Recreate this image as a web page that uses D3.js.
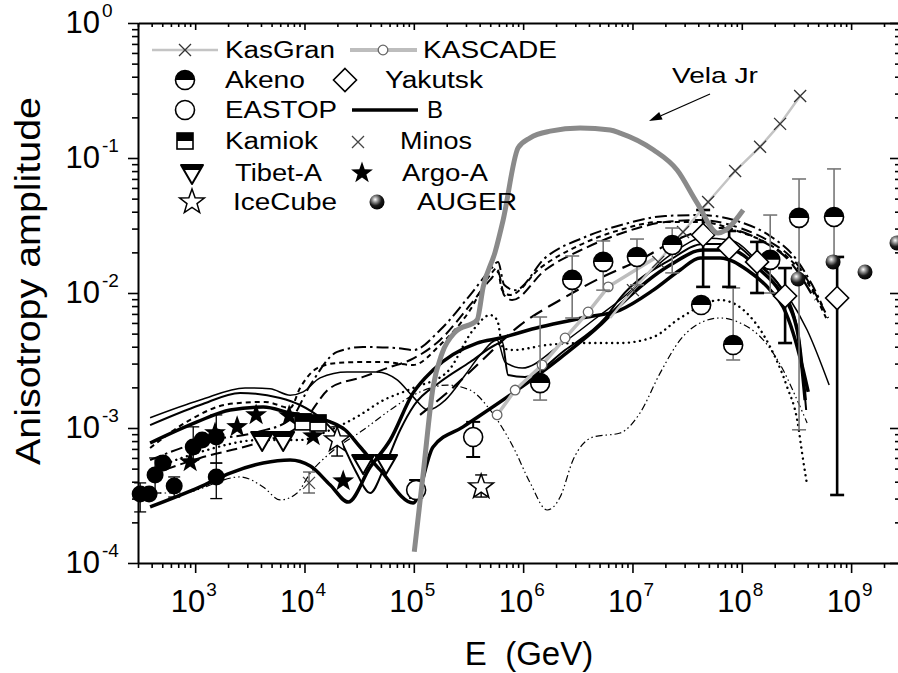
<!DOCTYPE html>
<html><head><meta charset="utf-8">
<script src="https://cdn.jsdelivr.net/npm/d3@7"></script>
<style>html,body{margin:0;padding:0;background:#fff;}svg{display:block;font-family:"Liberation Sans",Arial,sans-serif;}</style>
</head><body><svg id="c" width="898" height="673"></svg>
<script>
// ---------------- DATA (E in GeV, amplitude) ----------------
const xTickValues = [1e3,1e4,1e5,1e6,1e7,1e8,1e9];
const xTickExps = ['3','4','5','6','7','8','9'];
const yTickValues = [1e-4,1e-3,1e-2,1e-1,1];
const yTickExps = ['-4','-3','-2','-1','0'];

const velaJr = [[1.01e5,1.21e-4],[1.22e5,4.64e-4],[1.50e5,2.01e-3],[1.82e5,3.60e-3],[2.39e5,5.14e-3],[3.79e5,6.31e-3],[4.31e5,1.11e-2],[5.54e5,2.01e-2],[6.56e5,3.47e-2],[9.0e5,0.119],[1.16e6,0.141],[1.77e6,0.158],[3.32e6,0.167],[6.25e6,0.161],[7.71e6,0.153],[1.55e7,0.115],[2.56e7,8.15e-2],[3.91e7,4.64e-2],[6.07e7,2.78e-2],[1.03e8,4.12e-2]];

const kasGranLine = [[6.25e6,6.53e-3],[1.01e7,1.05e-2],[1.72e7,1.70e-2],[2.90e7,2.83e-2],[4.92e7,4.72e-2],[8.69e7,8.01e-2],[1.47e8,0.121],[2.24e8,0.179],[3.42e8,0.288]];
const kasGranPts = [[1.01e7,1.05e-2],[1.72e7,1.70e-2],[2.90e7,2.83e-2],[4.92e7,4.72e-2],[8.69e7,8.01e-2],[1.47e8,0.121],[2.24e8,0.179],[3.42e8,0.288]];

const kascadeLine = [[5.78e5,1.25e-3],[8.45e5,1.91e-3],[1.49e6,2.93e-3],[2.42e6,4.64e-3],[3.93e6,7.23e-3],[6.0e6,1.11e-2],[1.61e7,1.82e-2]];
const kascadePts = [[5.78e5,1.25e-3],[8.45e5,1.91e-3],[1.49e6,2.93e-3],[2.42e6,4.64e-3],[3.93e6,7.23e-3],[6.0e6,1.11e-2]];

// [E, A, hi, lo]
const akeno = [[1.43e6,2.15e-3,6.64e-3,1.61e-3],[2.81e6,1.25e-2,1.88e-2,6.53e-3],[5.4e6,1.70e-2,2.43e-2,1.05e-2],[1.1e7,1.85e-2,2.51e-2,1.15e-2],[2.31e7,2.27e-2,3.03e-2,1.41e-2],[4.25e7,8.15e-3,null,null],[8.34e7,4.12e-3,1.09e-2,3.19e-3],[1.82e8,1.76e-2,3.78e-2,1.0e-2],[3.34e8,3.60e-2,6.99e-2,9.7e-4],[6.98e8,3.66e-2,8.3e-2,1.82e-2]];
const yakutsk = [[4.43e7,2.69e-2,4.12e-2,1.11e-2],[7.66e7,2.15e-2,2.88e-2,1.11e-2],[1.38e8,1.70e-2,2.39e-2,1.0e-2],[2.49e8,9.5e-3,1.53e-2,4.26e-3],[7.45e8,9.18e-3,1.85e-2,3.19e-4]];
const eastop = [[1.05e5,3.47e-4,4.12e-4,3.03e-4],[3.49e5,8.57e-4,1.11e-3,6.1e-4]];
const iceCube = [[1.99e4,8.15e-4,1.02e-3,6.2e-4],[4.13e5,3.66e-4,4.49e-4,3.08e-4]];
const minos = [[1.1e4,3.92e-4,4.72e-4,3.3e-4]];
const kamiok = [[9.7e3,1.11e-3],[1.33e4,1.09e-3]];
const tibetA = [[4.1e3,8.15e-4],[6.38e3,8.15e-4],[3.44e4,5.5e-4],[5.58e4,5.5e-4]];
const argoA = [[900,5.6e-4],[1.52e3,9.2e-4],[2.42e3,1.02e-3],[3.61e3,1.25e-3],[7.24e3,1.23e-3],[1.2e4,8.73e-4],[2.26e4,4.05e-4]];
const auger = [[3.27e8,1.27e-2],[6.84e8,1.70e-2],[1.34e9,1.43e-2],[2.63e9,2.35e-2]];
const lowEnergy = [[314,3.24e-4,3.92e-4,2.39e-4],[379,3.24e-4,null,null],[430,4.49e-4,6.0e-4,3.3e-4],[509,5.5e-4,null,null],[643,3.72e-4,4.34e-4,3.08e-4],[960,7.23e-4,1.02e-3,5.79e-4],[1.16e3,8.15e-4,null,null],[1.56e3,8.57e-4,1.25e-3,5.5e-4],[1.56e3,4.34e-4,5.5e-4,3.0e-4]];

// model curves
const modelThickA = [[387,2.60e-4],[1.11e3,3.66e-4],[2.09e3,4.64e-4],[4.19e3,5.50e-4],[7.39e3,5.79e-4],[1.13e4,5.23e-4],[1.72e4,3.78e-4],[2.51e4,2.83e-4],[3.99e4,5.14e-4],[6.08e4,8.15e-4],[9.86e4,1.82e-3],[1.50e5,2.69e-3],[3.79e5,4.26e-3],[6.17e5,4.64e-3],[1.43e6,5.60e-3],[3.85e6,6.64e-3],[7.71e6,7.48e-3],[1.55e7,1.05e-2],[2.73e7,1.48e-2],[4.16e7,1.82e-2],[6.34e7,1.82e-2],[1.12e8,1.48e-2],[1.82e8,1.05e-2],[2.39e8,7.87e-3],[2.95e8,5.06e-3],[3.64e8,2.69e-3],[4.05e8,1.85e-3]];
const modelThickB = [[387,7.74e-4],[1.04e3,1.11e-3],[2.09e3,1.36e-3],[4.19e3,1.43e-3],[7.39e3,1.29e-3],[1.72e4,1.11e-3],[2.36e4,9.66e-4],[3.23e4,7.23e-4],[4.92e4,4.89e-4],[9.86e4,2.78e-4],[1.50e5,7.23e-4],[2.82e5,1.02e-3],[8.11e5,1.82e-3],[2.18e6,3.30e-3],[5.06e6,5.79e-3],[7.71e6,8.15e-3],[2.21e7,1.61e-2],[4.43e7,2.08e-2],[7.82e7,2.08e-2],[1.47e8,1.48e-2],[2.24e8,1.02e-2],[3.21e8,5.32e-3],[3.80e8,1.61e-3]];
const modelSolidThin = [[387,1.19e-3],[1.11e3,1.61e-3],[2.86e3,1.98e-3],[4.85e3,1.95e-3],[7.39e3,1.75e-3],[9.73e3,1.85e-3],[1.39e4,2.35e-3],[2.45e4,2.60e-3],[4.62e4,2.60e-3],[7.05e4,2.27e-3],[9.86e4,1.70e-3],[1.35e5,1.36e-3],[1.94e5,1.61e-3],[2.95e5,2.47e-3],[4.05e5,3.47e-3],[5.78e5,4.49e-3],[6.84e5,3.08e-3],[9.79e5,2.78e-3],[2.18e6,4.12e-3],[5.06e6,6.87e-3],[7.71e6,8.87e-3],[2.21e7,1.91e-2],[4.43e7,2.55e-2],[7.82e7,2.47e-2],[1.47e8,1.64e-2],[2.60e8,9.66e-3],[3.96e8,5.32e-3],[6.30e8,2.08e-3]];
const modelSolidMid = [[387,1.05e-3],[1.11e3,1.48e-3],[2.58e3,1.82e-3],[5.99e3,1.67e-3],[9.12e3,1.48e-3],[1.39e4,1.19e-3],[2.12e4,8.15e-4],[2.90e4,4.89e-4],[3.99e4,3.30e-4],[5.47e4,5.32e-4],[7.50e4,9.66e-4],[1.01e5,1.48e-3],[1.74e5,2.19e-3],[3.27e5,3.08e-3],[5.54e5,4.12e-3],[6.43e5,4.34e-3],[7.29e5,2.47e-3],[1.04e6,2.39e-3],[2.42e6,3.78e-3],[5.62e6,6.53e-3],[7.71e6,9.18e-3],[2.21e7,1.76e-2],[4.43e7,2.31e-2],[7.82e7,2.31e-2],[1.47e8,1.58e-2],[2.24e8,1.11e-2],[3.21e8,5.60e-3],[3.88e8,1.36e-3]];
const modelDashDotDot = [[387,3.30e-4],[729,3.30e-4],[2.58e3,4.34e-4],[4.19e3,3.66e-4],[5.99e3,2.93e-4],[8.57e3,3.30e-4],[1.13e4,4.64e-4],[1.72e4,6.53e-4],[3.44e4,9.66e-4],[6.08e4,1.36e-3],[9.86e4,1.75e-3],[2.02e5,2.08e-3],[3.27e5,1.91e-3],[4.99e5,1.36e-3],[8.11e5,7.23e-4],[1.16e6,3.92e-4],[1.66e6,2.47e-4],[2.18e6,3.08e-4],[2.86e6,5.79e-4],[4.37e6,8.57e-4],[7.71e6,9.18e-4],[1.17e7,1.29e-3],[1.79e7,2.55e-3],[2.73e7,4.49e-3],[4.16e7,6.00e-3],[6.34e7,6.53e-3],[9.66e7,6.00e-3],[1.57e8,4.49e-3],[2.39e8,2.69e-3],[3.21e8,1.61e-3],[3.96e8,1.09e-3]];
const modelDotted = [[387,4.89e-4],[1.11e3,6.64e-4],[3.94e3,8.15e-4],[9.12e3,8.15e-4],[1.72e4,9.66e-4],[3.23e4,1.25e-3],[4.92e4,1.56e-3],[9.86e4,1.98e-3],[2.02e5,2.60e-3],[3.49e5,5.32e-3],[4.99e5,6.87e-3],[5.78e5,6.31e-3],[6.56e5,3.91e-3],[8.11e5,3.78e-3],[1.66e6,4.12e-3],[3.32e6,4.26e-3],[7.71e6,4.26e-3],[1.55e7,4.72e-3],[2.73e7,6.53e-3],[6.34e7,8.87e-3],[1.27e8,6.31e-3],[1.82e8,3.98e-3],[2.60e8,2.01e-3],[3.21e8,1.15e-3],[3.64e8,5.79e-4],[3.96e8,3.78e-4]];
const modelShortDash = [[387,7.11e-4],[900,1.15e-3],[2.09e3,1.51e-3],[4.37e3,1.56e-3],[7.39e3,1.41e-3],[9.12e3,1.98e-3],[1.31e4,2.78e-3],[1.99e4,3.03e-3],[3.44e4,3.08e-3],[5.25e4,3.08e-3],[9.86e4,2.93e-3],[1.74e5,4.12e-3],[3.27e5,7.48e-3],[4.99e5,1.36e-2],[5.78e5,1.53e-2],[6.43e5,1.05e-2],[7.60e5,9.66e-3],[1.43e6,1.53e-2],[3.32e6,2.27e-2],[7.71e6,2.93e-2],[1.79e7,3.36e-2],[4.16e7,3.36e-2],[9.66e7,2.83e-2],[1.82e8,2.27e-2],[3.08e8,1.61e-2],[4.40e8,1.05e-2],[5.91e8,6.53e-3]];
const modelDashDot = [[387,5.79e-4],[1.11e3,7.87e-4],[3.69e3,9.33e-4],[7.39e3,1.15e-3],[1.13e4,2.08e-3],[1.99e4,3.66e-3],[3.44e4,3.98e-3],[7.05e4,3.91e-3],[9.86e4,3.78e-3],[1.74e5,5.32e-3],[3.27e5,9.66e-3],[4.99e5,1.48e-2],[5.90e5,1.70e-2],[6.70e5,1.15e-2],[8.45e5,1.05e-2],[1.59e6,1.82e-2],[3.69e6,2.60e-2],[8.57e6,3.25e-2],[1.99e7,3.72e-2],[4.16e7,3.78e-2],[9.66e7,3.36e-2],[1.82e8,2.64e-2],[3.08e8,1.82e-2],[4.40e8,1.15e-2],[5.43e8,8.15e-3]];
const modelLongDash = [[387,4.49e-4],[1.11e3,6.00e-4],[3.69e3,7.74e-4],[9.12e3,1.05e-3],[1.72e4,1.98e-3],[3.44e4,2.39e-3],[6.08e4,2.83e-3],[9.27e4,3.19e-3],[1.74e5,4.49e-3],[3.27e5,8.15e-3],[4.99e5,1.25e-2],[5.90e5,1.43e-2],[6.70e5,9.66e-3],[7.93e5,8.87e-3],[1.59e6,1.48e-2],[3.69e6,2.15e-2],[8.57e6,2.83e-2],[1.99e7,3.36e-2],[4.16e7,3.47e-2],[9.66e7,3.03e-2],[1.82e8,2.39e-2],[3.08e8,1.70e-2],[4.40e8,1.09e-2],[6.17e8,6.53e-3]];
const modelLongDash2 = [[1.14e5,1.25e-3],[2.15e5,1.91e-3],[4.05e5,3.08e-3],[9.40e5,5.79e-3],[2.18e6,8.87e-3],[5.06e6,1.29e-2],[1.17e7,1.76e-2],[2.73e7,2.55e-2],[6.34e7,3.03e-2],[1.47e8,2.47e-2],[2.77e8,1.70e-2],[4.69e8,8.87e-3]];

const legendLabels = ['KasGran','KASCADE','Akeno','Yakutsk','EASTOP','B','Kamiok','Minos','Tibet-A','Argo-A','IceCube','AUGER'];

// ---------------- DRAW ----------------
const svg = d3.select('#c');
const defs = svg.append('defs');
const gr = defs.append('radialGradient').attr('id','ball').attr('cx','0.38').attr('cy','0.33').attr('r','0.7');
[['0','#fff'],['0.25','#999'],['0.6','#1a1a1a'],['1','#000']].forEach(s=>gr.append('stop').attr('offset',s[0]).attr('stop-color',s[1]));

const x = d3.scaleLog().domain([300, 2.8e9]).range([138, 900]);
const y = d3.scaleLog().domain([1e-4, 1]).range([563, 23]);
const line = d3.line().x(d=>x(d[0])).y(d=>y(d[1])).curve(d3.curveMonotoneX);
const lineLin = d3.line().x(d=>x(d[0])).y(d=>y(d[1]));

// axes
function minorTicks(lo, hi){ const out=[]; for(let p=-6;p<=10;p++){ for(let k=2;k<=9;k++){ const v=k*Math.pow(10,p); if(v>=lo&&v<=hi) out.push(v);} } return out; }
const xMinor = minorTicks(300, 2.8e9), yMinor = minorTicks(1e-4, 1);
function axis(gen, tr, major, minor, majLen, minLen){
  const a = svg.append('g').attr('transform',tr);
  a.append('g').call(gen.tickValues(minor).tickSize(minLen).tickSizeOuter(0).tickFormat(()=>'')).call(s=>s.select('.domain').remove());
  a.append('g').call(gen.tickValues(major).tickSize(majLen).tickSizeOuter(0).tickFormat(()=>''));
  a.selectAll('.domain').attr('stroke','#000').attr('stroke-width',2);
  a.selectAll('.tick line').attr('stroke','#000').attr('stroke-width',1.6);
}
axis(d3.axisBottom(x), 'translate(0,563)', xTickValues, xMinor, 10, 5);
axis(d3.axisBottom(x), 'translate(0,23)', xTickValues, xMinor, 7, 4);
axis(d3.axisLeft(y), 'translate(138,0)', yTickValues, yMinor, 10, 6);
axis(d3.axisLeft(y), 'translate(900,0)', yTickValues, yMinor, 10, 5);

// tick labels
xTickValues.forEach((v,i)=>{
  const px = x(v);
  svg.append('text').attr('x',px+10).attr('y',612).attr('text-anchor','end').attr('font-size',31).text('10');
  svg.append('text').attr('x',px+11).attr('y',596).attr('font-size',19).text(xTickExps[i]);
});
yTickValues.forEach((v,i)=>{
  const py = y(v);
  svg.append('text').attr('x',100).attr('y',py+10).attr('text-anchor','end').attr('font-size',31).text('10');
  svg.append('text').attr('x',102).attr('y',py-6).attr('font-size',19).text(yTickExps[i]);
});
svg.append('text').attr('transform','translate(40,281) rotate(-90)').attr('text-anchor','middle').attr('font-size',35)
  .attr('textLength',368).attr('lengthAdjust','spacingAndGlyphs').text('Anisotropy amplitude');
svg.append('text').attr('x',529).attr('y',665).attr('text-anchor','middle').attr('font-size',33).style('white-space','pre').text('E  (GeV)');

// model curves
const curves = [
  [modelDashDotDot,1.2,'7,3,1.5,3,1.5,3','butt'],
  [modelDotted,2.4,'0.1,5.5','round'],
  [modelShortDash,2,'5,4','butt'],
  [modelDashDot,2,'12,4,2.5,4','butt'],
  [modelLongDash,2,'11,5','butt'],
  [modelLongDash2,2.2,'14,7','butt'],
  [modelSolidThin,1.5,null,'butt'],
  [modelSolidMid,2,null,'butt'],
  [modelThickB,3.5,null,'butt'],
  [modelThickA,3.5,null,'butt']
];
const gc = svg.append('g').attr('fill','none').attr('stroke','#000');
curves.forEach(c=>{
  const p = gc.append('path').attr('d',line(c[0])).attr('stroke-width',c[1]).attr('stroke-linecap',c[3]).attr('stroke-linejoin','round');
  if(c[2]) p.attr('stroke-dasharray',c[2]);
});

// KASCADE & KasGran lines
svg.append('path').attr('d',lineLin(kascadeLine)).attr('fill','none').attr('stroke','#bdbdbd').attr('stroke-width',3.5);
svg.append('path').attr('d',lineLin(kasGranLine)).attr('fill','none').attr('stroke','#c4c4c4').attr('stroke-width',2.5);

// helpers
function errBar(g, E, hi, lo, color, w, cap){
  if(hi==null) return;
  const px=x(E);
  g.append('line').attr('x1',px).attr('x2',px).attr('y1',y(hi)).attr('y2',y(lo)).attr('stroke',color).attr('stroke-width',w);
  [hi,lo].forEach(v=>g.append('line').attr('x1',px-cap).attr('x2',px+cap).attr('y1',y(v)).attr('y2',y(v)).attr('stroke',color).attr('stroke-width',w));
}
function starPath(ro, ri){ let p=''; for(let i=0;i<10;i++){ const r=i%2?ri:ro; const a=-Math.PI/2+i*Math.PI/5; p+=(i?'L':'M')+(r*Math.cos(a)).toFixed(2)+','+(r*Math.sin(a)).toFixed(2);} return p+'Z'; }
const sym = {
  akeno:(g)=>{ g.append('circle').attr('r',9.5).attr('fill','#fff').attr('stroke','#000').attr('stroke-width',1.6);
               g.append('path').attr('d','M-9.5,0A9.5,9.5 0 0 1 9.5,0Z').attr('fill','#000'); },
  eastop:(g)=>g.append('circle').attr('r',9.5).attr('fill','#fff').attr('stroke','#000').attr('stroke-width',1.6),
  yakutsk:(g)=>g.append('path').attr('d','M0,-11.5L11.5,0L0,11.5L-11.5,0Z').attr('fill','#fff').attr('stroke','#000').attr('stroke-width',1.6),
  kamiok:(g)=>{ g.append('rect').attr('x',-8).attr('y',-8).attr('width',16).attr('height',16).attr('fill','#fff').attr('stroke','#000').attr('stroke-width',1.6);
                g.append('rect').attr('x',-8).attr('y',-8).attr('width',16).attr('height',8).attr('fill','#000'); },
  tibet:(g)=>{ g.append('path').attr('d','M-11,-8L11,-8L0,11Z').attr('fill','#fff').attr('stroke','#000').attr('stroke-width',2).attr('stroke-linejoin','round');
               g.append('path').attr('d','M-11,-8L11,-8L8.1,-3L-8.1,-3Z').attr('fill','#000'); },
  argo:(g)=>g.append('path').attr('d',starPath(11.5,4.6)).attr('fill','#000'),
  ice:(g)=>g.append('path').attr('d',starPath(13,5.3)).attr('fill','#fff').attr('stroke','#000').attr('stroke-width',1.5),
  auger:(g)=>g.append('circle').attr('r',7.5).attr('fill','url(#ball)'),
  minos:(g)=>g.append('path').attr('d','M-6,-6L6,6M-6,6L6,-6').attr('stroke','#444').attr('stroke-width',1.3),
  cross:(g)=>g.append('path').attr('d','M-6,-6L6,6M-6,6L6,-6').attr('stroke','#333').attr('stroke-width',1.3),
  smallc:(g)=>g.append('circle').attr('r',4.8).attr('fill','#fff').attr('stroke','#666').attr('stroke-width',1.3),
  black:(g)=>g.append('circle').attr('r',8.5).attr('fill','#000')
};
function place(g, px, py, f){ const s=g.append('g').attr('transform',`translate(${px},${py})`); f(s); }
const gm = svg.append('g');
kascadePts.forEach(d=>place(gm,x(d[0]),y(d[1]),sym.smallc));
kasGranPts.forEach(d=>place(gm,x(d[0]),y(d[1]),sym.cross));
lowEnergy.forEach(d=>errBar(gm,d[0],d[2],d[3],'#000',1.3,6));
lowEnergy.forEach(d=>place(gm,x(d[0]),y(d[1]),sym.black));
argoA.forEach(d=>place(gm,x(d[0]),y(d[1]),sym.argo));
tibetA.forEach(d=>place(gm,x(d[0]),y(d[1]),sym.tibet));
kamiok.forEach(d=>place(gm,x(d[0]),y(d[1]),sym.kamiok));
minos.forEach(d=>{errBar(gm,d[0],d[2],d[3],'#444',1.2,6); place(gm,x(d[0]),y(d[1]),sym.minos);});
iceCube.forEach(d=>{errBar(gm,d[0],d[2],d[3],'#000',1.4,6); place(gm,x(d[0]),y(d[1]),sym.ice);});
eastop.forEach(d=>{errBar(gm,d[0],d[2],d[3],'#000',2,7); place(gm,x(d[0]),y(d[1]),sym.eastop);});
akeno.forEach(d=>errBar(gm,d[0],d[2],d[3],'#777',1.6,7));
yakutsk.forEach(d=>errBar(gm,d[0],d[2],d[3],'#000',2.6,7));
akeno.forEach(d=>place(gm,x(d[0]),y(d[1]),sym.akeno));
yakutsk.forEach(d=>place(gm,x(d[0]),y(d[1]),sym.yakutsk));
auger.forEach(d=>place(gm,x(d[0]),y(d[1]),sym.auger));

// Vela Jr
svg.append('path').attr('d',line(velaJr)).attr('fill','none').attr('stroke','#8a8a8a').attr('stroke-width',5).attr('stroke-linejoin','round');
svg.append('text').attr('x',672).attr('y',83).attr('font-size',22).attr('textLength',86).attr('lengthAdjust','spacingAndGlyphs').text('Vela Jr');
(function(){ const x1=710,y1=94,x2=649,y2=121; const L=Math.hypot(x2-x1,y2-y1), ux=(x2-x1)/L, uy=(y2-y1)/L;
  const bx=x2-13*ux, by=y2-13*uy, px=-uy*4.2, py=ux*4.2;
  svg.append('line').attr('x1',x1).attr('y1',y1).attr('x2',bx).attr('y2',by).attr('stroke','#000').attr('stroke-width',1.3);
  svg.append('path').attr('d',`M${x2},${y2}L${bx+px},${by+py}L${bx-px},${by-py}Z`).attr('fill','#000'); })();

// legend
const lg = svg.append('g');
const rowsY = [50,80,110,141,173,202];
const lt = (tx, row, label, w)=>lg.append('text').attr('x',tx).attr('y',rowsY[row]+8).attr('font-size',23).attr('textLength',w).attr('lengthAdjust','spacingAndGlyphs').text(label);
lg.append('line').attr('x1',152).attr('x2',218).attr('y1',50).attr('y2',50).attr('stroke','#c4c4c4').attr('stroke-width',2.5);
place(lg,185,50,sym.cross);
lt(225,0,legendLabels[0],110);
lg.append('line').attr('x1',350).attr('x2',417).attr('y1',50).attr('y2',50).attr('stroke','#bdbdbd').attr('stroke-width',4);
place(lg,383,50,sym.smallc);
lt(423,0,legendLabels[1],134);
place(lg,185,80,sym.akeno); lt(225,1,legendLabels[2],80);
place(lg,345,80,sym.yakutsk); lt(385,1,legendLabels[3],98);
place(lg,185,110,sym.eastop); lt(225,2,legendLabels[4],112);
lg.append('line').attr('x1',352).attr('x2',418).attr('y1',110).attr('y2',110).attr('stroke','#000').attr('stroke-width',3.5);
lt(427,2,legendLabels[5],16);
place(lg,185,141,sym.kamiok); lt(225,3,legendLabels[6],93);
place(lg,358,142,sym.minos); lt(400,3,legendLabels[7],72);
place(lg,192,173,sym.tibet); lt(235,4,legendLabels[8],87);
place(lg,362,173,sym.argo); lt(402,4,legendLabels[9],86);
place(lg,192,202,sym.ice); lt(233,5,legendLabels[10],104);
place(lg,377,202,sym.auger); lt(417,5,legendLabels[11],100);
</script></body></html>
